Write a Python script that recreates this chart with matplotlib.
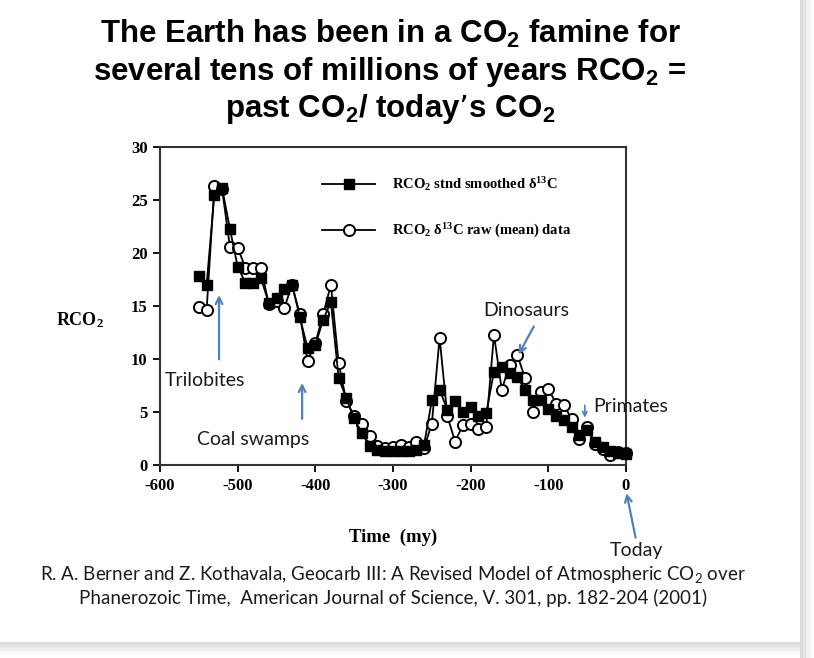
import matplotlib
matplotlib.use('Agg')
import matplotlib.pyplot as plt
from matplotlib.patches import Rectangle

plt.rcParams['mathtext.default'] = 'regular'
plt.rcParams['axes.unicode_minus'] = False

# Geocarb III, RCO2 = past CO2 / today's CO2
time_my = list(range(-550, 1, 10))
rco2_smoothed = [17.8, 17.0, 25.5, 26.1, 22.3, 18.7, 17.2, 17.2, 17.6, 15.3,
                 15.8, 16.6, 17.0, 14.0, 11.0, 11.3, 13.7, 15.4, 8.2, 6.3,
                 4.4, 3.0, 1.8, 1.4, 1.3, 1.3, 1.3, 1.3, 1.4, 1.9,
                 6.1, 7.1, 5.2, 6.0, 5.0, 5.5, 4.6, 4.9, 8.8, 9.2,
                 8.7, 8.3, 7.1, 6.1, 6.1, 5.3, 4.6, 4.2, 3.6, 2.8,
                 3.3, 2.2, 1.7, 1.3, 1.1, 1.0]
rco2_raw = [14.9, 14.6, 26.3, 26.0, 20.6, 20.5, 18.6, 18.6, 18.6, 15.2,
            15.5, 14.8, 17.0, 14.2, 9.8, 11.5, 14.2, 17.0, 9.6, 6.0,
            4.6, 3.9, 2.7, 1.8, 1.6, 1.7, 1.9, 1.7, 2.2, 1.6,
            3.9, 12.0, 4.6, 2.2, 3.8, 3.9, 3.4, 3.6, 12.3, 7.1,
            9.4, 10.4, 8.2, 5.0, 6.9, 7.2, 5.8, 5.7, 4.3, 2.5,
            3.6, 2.0, 1.5, 0.9, 1.2, 1.1]

title_lines = ['The Earth has been in a CO$_2$ famine for',
               'several tens of millions of years RCO$_2$ =',
               'past CO$_2$/ today\u2019s CO$_2$']
citation_lines = ['R. A. Berner and Z. Kothavala, Geocarb III: A Revised Model of Atmospheric CO$_2$ over',
                  'Phanerozoic Time,  American Journal of Science, V. 301, pp. 182-204 (2001)']

serif = 'Liberation Serif'
sans = 'Lato'
arrow_blue = '#4f81bd'

fig = plt.figure(figsize=(8.14, 6.58), dpi=100)
W, H = 814, 658

# slide shadow on the right and bottom
for i, a in enumerate([0.35, 0.25, 0.15, 0.08]):
    fig.add_artist(Rectangle(((800 + i * 3) / W, 0), 3 / W, 1, transform=fig.transFigure,
                             color='#9a9a9a', alpha=a, lw=0))
    fig.add_artist(Rectangle((0, (16 - i * 3 - 3) / H), 800 / W, 3 / H, transform=fig.transFigure,
                             color='#9a9a9a', alpha=a, lw=0))

ax = fig.add_axes([160 / W, 1 - 465 / H, 466 / W, 318 / H])

ax.plot(time_my, rco2_raw, color='black', lw=1.3, marker='o', ms=8,
        mfc='white', mec='black', mew=1.4, clip_on=False, zorder=3,
        label='RCO$_2$ δ$^{13}$C raw (mean) data')
ax.plot(time_my, rco2_smoothed, color='black', lw=1.3, marker='s', ms=6.5,
        mfc='black', mec='black', clip_on=False, zorder=4,
        label='RCO$_2$ stnd smoothed δ$^{13}$C')

ax.set_xlim(-600, 0)
ax.set_ylim(0, 30)
ax.set_xticks(range(-600, 1, 100))
ax.set_yticks(range(0, 31, 5))
ax.tick_params(direction='out', length=5, width=1.3, pad=4)
for lbl in ax.get_xticklabels() + ax.get_yticklabels():
    lbl.set_fontfamily(serif)
    lbl.set_fontweight('bold')
    lbl.set_fontsize(12)
for s in ax.spines.values():
    s.set_linewidth(1.5)
    s.set_color('#333333')

handles, labels = ax.get_legend_handles_labels()
leg = ax.legend(handles[::-1], labels[::-1], loc='upper left', bbox_to_anchor=(0.333, 0.935),
                frameon=False, handlelength=3.6, handletextpad=1.2, labelspacing=2.0,
                borderpad=0, prop={'family': serif, 'weight': 'bold', 'size': 10.5})

fig.text(80 / W, 1 - 320 / H, 'RCO$_2$', family=serif, weight='bold', fontsize=13,
         ha='center', va='center')
fig.text(393 / W, 1 - 537 / H, 'Time  (my)', family=serif, weight='bold', fontsize=13.5,
         ha='center', va='center')

# annotations
akw = dict(arrowstyle='->', color=arrow_blue, lw=1.6, mutation_scale=12)
tkw = dict(family=sans, fontsize=14, color='#1a1a1a', ha='center', va='center')
ax.annotate('', xy=(-524, 16.3), xytext=(-524, 9.7), arrowprops=akw)
ax.text(-542, 8.0, 'Trilobites', **tkw)
ax.annotate('', xy=(-417, 8.0), xytext=(-417, 4.1), arrowprops=akw)
ax.text(-480, 2.4, 'Coal swamps', **tkw)
ax.annotate('', xy=(-140, 10.2), xytext=(-117, 13.3), arrowprops=akw)
ax.text(-129, 14.6, 'Dinosaurs', **tkw)
ax.annotate('', xy=(-53, 4.2), xytext=(-53, 5.9), arrowprops=dict(akw, lw=1.2, mutation_scale=8))
ax.text(-42, 5.5, 'Primates', **dict(tkw, ha='left'))
ax.annotate('', xy=(0, -2.4), xytext=(13, -7.1), arrowprops=akw, annotation_clip=False)
ax.text(14, -8.1, 'Today', clip_on=False, **tkw)

# title
for i, line in enumerate(title_lines):
    fig.text(390 / W, 1 - (43 + i * 37) / H, line, family='Liberation Sans', weight='bold',
             fontsize=22.5, ha='center', va='baseline')

# citation
for i, line in enumerate(citation_lines):
    fig.text(393 / W, 1 - (580 + i * 24) / H, line, family=sans, fontsize=13.5,
             color='#1a1a1a', ha='center', va='baseline')

fig.savefig('out.png', dpi=100, facecolor='white')
